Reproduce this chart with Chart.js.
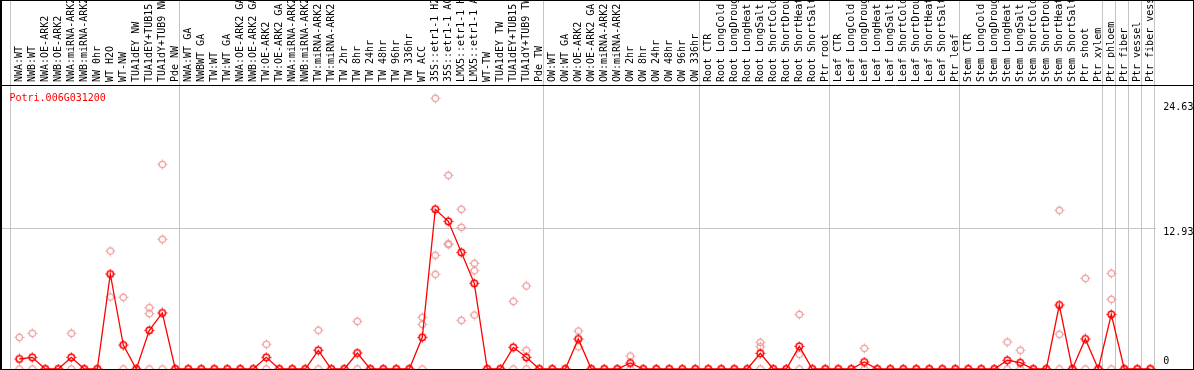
<!DOCTYPE html>
<html><head><meta charset="utf-8">
<script src="https://cdn.jsdelivr.net/npm/chart.js@4/dist/chart.umd.min.js"></script>
<style>html,body{margin:0;padding:0;background:#fff;overflow:hidden}canvas{display:block}</style>
</head><body>
<canvas id="c" width="1194" height="370"></canvas>
<script>
const title = 'Potri.006G031200';
const categories = [
  'NWA:WT','NWB:WT','NWA:OE-ARK2','NWB:OE-ARK2','NWA:miRNA-ARK2','NWB:miRNA-ARK2','NW 0hr','WT H2O','WT-NW','TUA1dEY NW','TUA1dEY+TUB15 NW','TUA1dY+TUB9 NW','Pde NW',
  'NWA:WT GA','NWBWT GA','TW:WT','TW:WT GA','NWA:OE-ARK2 GA','NWB:OE-ARK2 GA','TW:OE-ARK2','TW:OE-ARK2 GA','NWA:miRNA-ARK2 GA','NWB:miRNA-ARK2 GA','TW:miRNA-ARK2','TW:miRNA-ARK2 GA',
  'TW 2hr','TW 8hr','TW 24hr','TW 48hr','TW 96hr','TW 336hr','WT ACC','35S::etr1-1 H2O','35S::etr1-1 ACC','LMX5::etr1-1 H2O','LMX5::etr1-1 ACC','WT-TW','TUA1dEY TW','TUA1dEY+TUB15 TW','TUA1dY+TUB9 TW','Pde TW',
  'OW:WT','OW:WT GA','OW:OE-ARK2','OW:OE-ARK2 GA','OW:miRNA-ARK2','OW:miRNA-ARK2 GA','OW 2hr','OW 8hr','OW 24hr','OW 48hr','OW 96hr','OW 336hr',
  'Root CTR','Root LongCold','Root LongDrought','Root LongHeat','Root LongSalt','Root ShortCold','Root ShortDrought','Root ShortHeat','Root ShortSalt','Ptr root',
  'Leaf CTR','Leaf LongCold','Leaf LongDrought','Leaf LongHeat','Leaf LongSalt','Leaf ShortCold','Leaf ShortDrought','Leaf ShortHeat','Leaf ShortSalt','Ptr leaf',
  'Stem CTR','Stem LongCold','Stem LongDrought','Stem LongHeat','Stem LongSalt','Stem ShortCold','Stem ShortDrought','Stem ShortHeat','Stem ShortSalt','Ptr shoot','Ptr xylem',
  'Ptr phloem','Ptr fiber','Ptr vessel','Ptr fiber vessel'
];
const groupStarts = [0, 13, 41, 53, 63, 73, 84, 85, 86, 87, 88];
const means = [
  0.92,1.07,0,0,1.07,0,0,8.73,2.2,0,3.55,5.15,0,
  0,0,0,0,0,0,1.07,0,0,0,1.72,0,
  0,1.47,0,0,0,0,2.91,14.68,13.57,10.72,7.87,0,0,1.99,1.07,0,
  0,0,2.76,0,0,0,0.55,0,0,0,0,0,
  0,0,0,0,1.44,0,0,2.08,0,0,
  0,0,0.64,0,0,0,0,0,0,0,
  0,0,0,0.8,0.58,0,0,5.88,0,2.76,0,
  5.02,0,0,0
];
const replicates = [
  [2.91,0],[3.28,0],[0],[0],[3.28,0],[0],[0],[10.84,6.62],[6.59,0],[0],[5.64,5.09,0],[18.81,11.92,0],[0],
  [0],[0],[0],[0],[0],[0],[2.27,0],[0],[0],[0],[3.56,0],[0],
  [0],[4.38,0],[0],[0],[0],[0],[4.75,4.1,0],[24.88,10.45,8.7],[17.8,11.52,11.43],[14.68,13.02,4.47],[9.71,9.04,4.96],[0],[0],[6.22,0],[7.63,1.72,0],[0],
  [0],[0],[3.49,2.05],[0],[0],[0],[1.19,0],[0],[0],[0],[0],[0],
  [0],[0],[0],[0],[2.45,2.05,0],[0],[0],[5.02,1.35,0],[0],[0],
  [0],[0],[1.9,0],[0],[0],[0],[0],[0],[0],[0],
  [0],[0],[0],[2.48,0],[1.72,0],[0],[0],[14.58,3.19,0],[0],[8.33,0],[0],
  [8.79,6.4,0],[0],[0],[0]
];
const yTicks = [0, 12.93, 24.63];

const FONT = "'DejaVu Sans Mono', monospace";
function makeMarker(color, lw) {
  const c = document.createElement('canvas');
  c.width = 11; c.height = 11;
  const g = c.getContext('2d');
  g.strokeStyle = color; g.lineWidth = lw;
  g.beginPath(); g.arc(5.5, 5.5, 3.2, 0, Math.PI * 2); g.stroke();
  g.lineWidth = 1;
  g.beginPath();
  g.moveTo(5.5, 0.5); g.lineTo(5.5, 1.9);
  g.moveTo(5.5, 9.1); g.lineTo(5.5, 10.5);
  g.moveTo(0.5, 5.5); g.lineTo(1.9, 5.5);
  g.moveTo(9.1, 5.5); g.lineTo(10.5, 5.5);
  g.stroke();
  return c;
}
const redMarker = makeMarker('#ff0000', 1.5);
const pinkMarker = makeMarker('#ee9a9a', 1.2);

const decor = {
  id: 'decor',
  beforeDatasetsDraw(chart) {
    const {ctx, chartArea, scales: {x}} = chart;
    ctx.save();
    ctx.strokeStyle = '#c4c4c4'; ctx.lineWidth = 1;
    ctx.beginPath();
    groupStarts.forEach(b => {
      const px = Math.floor(x.getPixelForValue(b - 0.5) - 2) + 0.5;
      ctx.moveTo(px, 0); ctx.lineTo(px, chartArea.bottom);
    });
    ctx.stroke();
    ctx.restore();
  },
  afterDraw(chart) {
    const {ctx, chartArea, width, height} = chart;
    ctx.save();
    ctx.fillStyle = '#ff0000';
    ctx.font = "10px " + FONT;
    ctx.textBaseline = 'alphabetic';
    ctx.textAlign = 'left';
    ctx.fillText(title, 9.5, 101);
    ctx.strokeStyle = '#000'; ctx.lineWidth = 1;
    ctx.beginPath();
    ctx.moveTo(0, 0.5); ctx.lineTo(width, 0.5);
    ctx.moveTo(0, chartArea.top + 0.5); ctx.lineTo(width, chartArea.top + 0.5);
    ctx.moveTo(0, chartArea.bottom + 0.5); ctx.lineTo(width, chartArea.bottom + 0.5);
    ctx.moveTo(width - 0.5, 0); ctx.lineTo(width - 0.5, height);
    ctx.stroke();
    ctx.fillStyle = '#000';
    ctx.fillRect(0, 0, 2, height);
    ctx.restore();
  }
};

const yShift = [
  {lines: v => [String(v), ''], lh: '14.6px'},
  {lines: v => ['', String(v)], lh: '8.4px'},
  {lines: v => ['', String(v)], lh: '12.6px'}
];

new Chart(document.getElementById('c'), {
  type: 'line',
  data: {
    datasets: [
      {
        label: title,
        data: means.map((v, i) => ({x: i, y: v})),
        borderColor: '#ff0000', borderWidth: 1.3, tension: 0,
        pointStyle: redMarker, pointRadius: 5, clip: false, order: 0
      },
      {
        label: 'replicates',
        data: replicates.flatMap((a, i) => a.map(v => ({x: i, y: v}))),
        showLine: false, borderColor: '#ee9a9a',
        pointStyle: pinkMarker, pointRadius: 5, clip: false, order: 1
      }
    ]
  },
  options: {
    responsive: false, animation: false, devicePixelRatio: 1,
    layout: {autoPadding: false, padding: {left: 1, right: 0, top: 0, bottom: 1}},
    plugins: {legend: {display: false}, tooltip: {enabled: false}, title: {display: false}},
    scales: {
      x: {
        type: 'linear', position: 'top', min: -1.4077, max: 87.40,
        grid: {display: false, drawTicks: false}, border: {display: false},
        afterBuildTicks: s => { s.ticks = categories.map((_, i) => ({value: i})); },
        afterFit: s => { s.height = 85; s.paddingLeft = 0; s.paddingRight = 0; },
        ticks: {
          autoSkip: false, minRotation: 90, maxRotation: 90, padding: 3, color: '#000',
          font: {family: FONT, size: 10}, labelOffset: 12,
          callback: v => categories[v]
        }
      },
      y: {
        position: 'right', min: 0, max: 26.1,
        afterBuildTicks: s => { s.ticks = yTicks.map(v => ({value: v})); },
        afterFit: s => { s.width = 38.5; s.paddingTop = 0; s.paddingBottom = 0; },
        grid: {
          color: c => (c.tick && c.tick.value === 12.93) ? '#c4c4c4' : 'rgba(0,0,0,0)',
          drawTicks: false, lineWidth: 1
        },
        border: {display: false},
        ticks: {
          padding: 7.8, color: '#000', crossAlign: 'near',
          font: c => ({family: FONT, size: 10, lineHeight: yShift[c.index] ? yShift[c.index].lh : 1.2}),
          callback: (v, i) => yShift[i] ? yShift[i].lines(v) : String(v)
        }
      }
    }
  },
  plugins: [decor]
});
</script>
</body></html>
